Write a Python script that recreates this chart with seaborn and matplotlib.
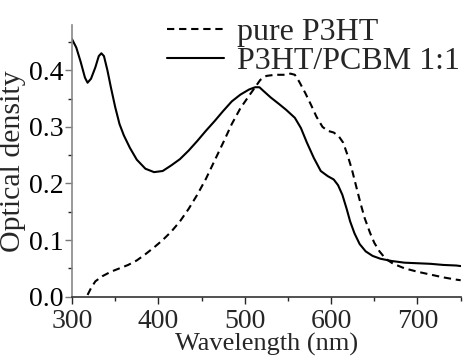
import matplotlib
matplotlib.use("Agg")
import matplotlib.pyplot as plt
import seaborn as sns
import pandas as pd
from matplotlib.ticker import MultipleLocator
from matplotlib.lines import Line2D

# P3HT/PCBM 1:1 (solid)
blend_wl = [300, 305, 310, 315, 318, 322, 327, 331, 334, 337, 341, 345, 350, 355, 360,
            367, 375, 385, 395, 405, 415, 425, 435, 445, 455, 465, 475, 485, 495, 505,
            512, 517, 522, 530, 540, 548, 558, 565, 572, 580, 588, 596, 603, 608, 613,
            618, 622, 627, 633, 640, 648, 657, 670, 685, 700, 715, 730, 745, 750]
blend_od = [0.455, 0.44, 0.415, 0.387, 0.378, 0.385, 0.405, 0.425, 0.43, 0.425, 0.4, 0.37,
            0.335, 0.305, 0.285, 0.263, 0.242, 0.226, 0.22, 0.222, 0.232, 0.243, 0.258,
            0.275, 0.293, 0.31, 0.328, 0.345, 0.357, 0.366, 0.37, 0.37, 0.363, 0.352,
            0.34, 0.33, 0.316, 0.298, 0.272, 0.245, 0.222, 0.213, 0.207, 0.197, 0.18,
            0.155, 0.133, 0.112, 0.093, 0.08, 0.072, 0.067, 0.063, 0.06, 0.059, 0.058,
            0.056, 0.055, 0.054]

# pure P3HT (dashed)
pure_wl = [318, 322, 327, 335, 345, 355, 365, 375, 385, 395, 405, 415, 425, 435, 445,
           455, 465, 475, 485, 495, 505, 512, 518, 525, 535, 545, 553, 558, 563, 570,
           577, 583, 590, 596, 603, 609, 614, 619, 624, 629, 634, 639, 645, 650, 656,
           663, 672, 685, 700, 715, 730, 745, 750]
pure_od = [0.003, 0.015, 0.027, 0.036, 0.044, 0.05, 0.056, 0.064, 0.075, 0.087, 0.1,
           0.115, 0.133, 0.155, 0.18, 0.208, 0.24, 0.272, 0.305, 0.333, 0.355, 0.37,
           0.383, 0.39, 0.392, 0.392, 0.394, 0.392, 0.38, 0.36, 0.338, 0.318, 0.3,
           0.293, 0.29, 0.283, 0.272, 0.25, 0.225, 0.195, 0.165, 0.138, 0.113, 0.095,
           0.08, 0.067, 0.058, 0.05, 0.044, 0.039, 0.034, 0.03, 0.029]

labels = ["pure P3HT", "P3HT/PCBM 1:1"]
x_ticks = [300, 400, 500, 600, 700]
y_ticks = [0.0, 0.1, 0.2, 0.3, 0.4]

df = pd.concat([
    pd.DataFrame({"wl": pure_wl, "od": pure_od, "sample": labels[0]}),
    pd.DataFrame({"wl": blend_wl, "od": blend_od, "sample": labels[1]}),
])

sns.set_style("ticks")
plt.rcParams["font.family"] = ["Liberation Serif", "DejaVu Serif"]

fig = plt.figure(figsize=(4.63, 3.60), dpi=100)
ax = fig.add_axes([0.1555, 0.176, 0.8395, 0.7546])

sns.lineplot(data=df, x="wl", y="od", style="sample", style_order=labels,
             dashes={labels[0]: (3.5, 2.3), labels[1]: ""},
             color="black", linewidth=1.5, sort=False, estimator=None, ax=ax,
             legend=False)

ax.set_xlim(300, 750)
ax.set_ylim(0, 0.48)
ax.set_xticks(x_ticks)
ax.set_yticks(y_ticks)
ax.set_yticklabels([f"{v:.1f}" for v in y_ticks])
ax.xaxis.set_minor_locator(MultipleLocator(50))
ax.yaxis.set_minor_locator(MultipleLocator(0.05))
ax.tick_params(which="major", direction="out", length=5, width=1, labelsize=20)
ax.tick_params(which="minor", direction="out", length=3, width=1)
ax.tick_params(axis="x", pad=4)
ax.tick_params(axis="y", pad=1, colors="#777777", labelcolor="black")
for s in ["top", "right"]:
    ax.spines[s].set_visible(False)
ax.spines["left"].set_color("#888888")
ax.spines["bottom"].set_color("#333333")
ax.spines["left"].set_linewidth(1.2)
ax.spines["bottom"].set_linewidth(1.2)

ax.set_xlabel("Wavelength (nm)", fontsize=19, labelpad=-1)
ax.set_ylabel("Optical density", fontsize=21.5, labelpad=2)

handles = [Line2D([], [], color="black", lw=1.5, dashes=(3.5, 2.3)),
           Line2D([], [], color="black", lw=1.5)]
fig.legend(handles, labels, loc="upper right", bbox_to_anchor=(1.0, 0.96),
           frameon=False, fontsize=23, handlelength=1.8, handletextpad=0.4,
           labelspacing=0.0, borderpad=0.1, borderaxespad=0.0)

fig.savefig("out.png", dpi=100)
